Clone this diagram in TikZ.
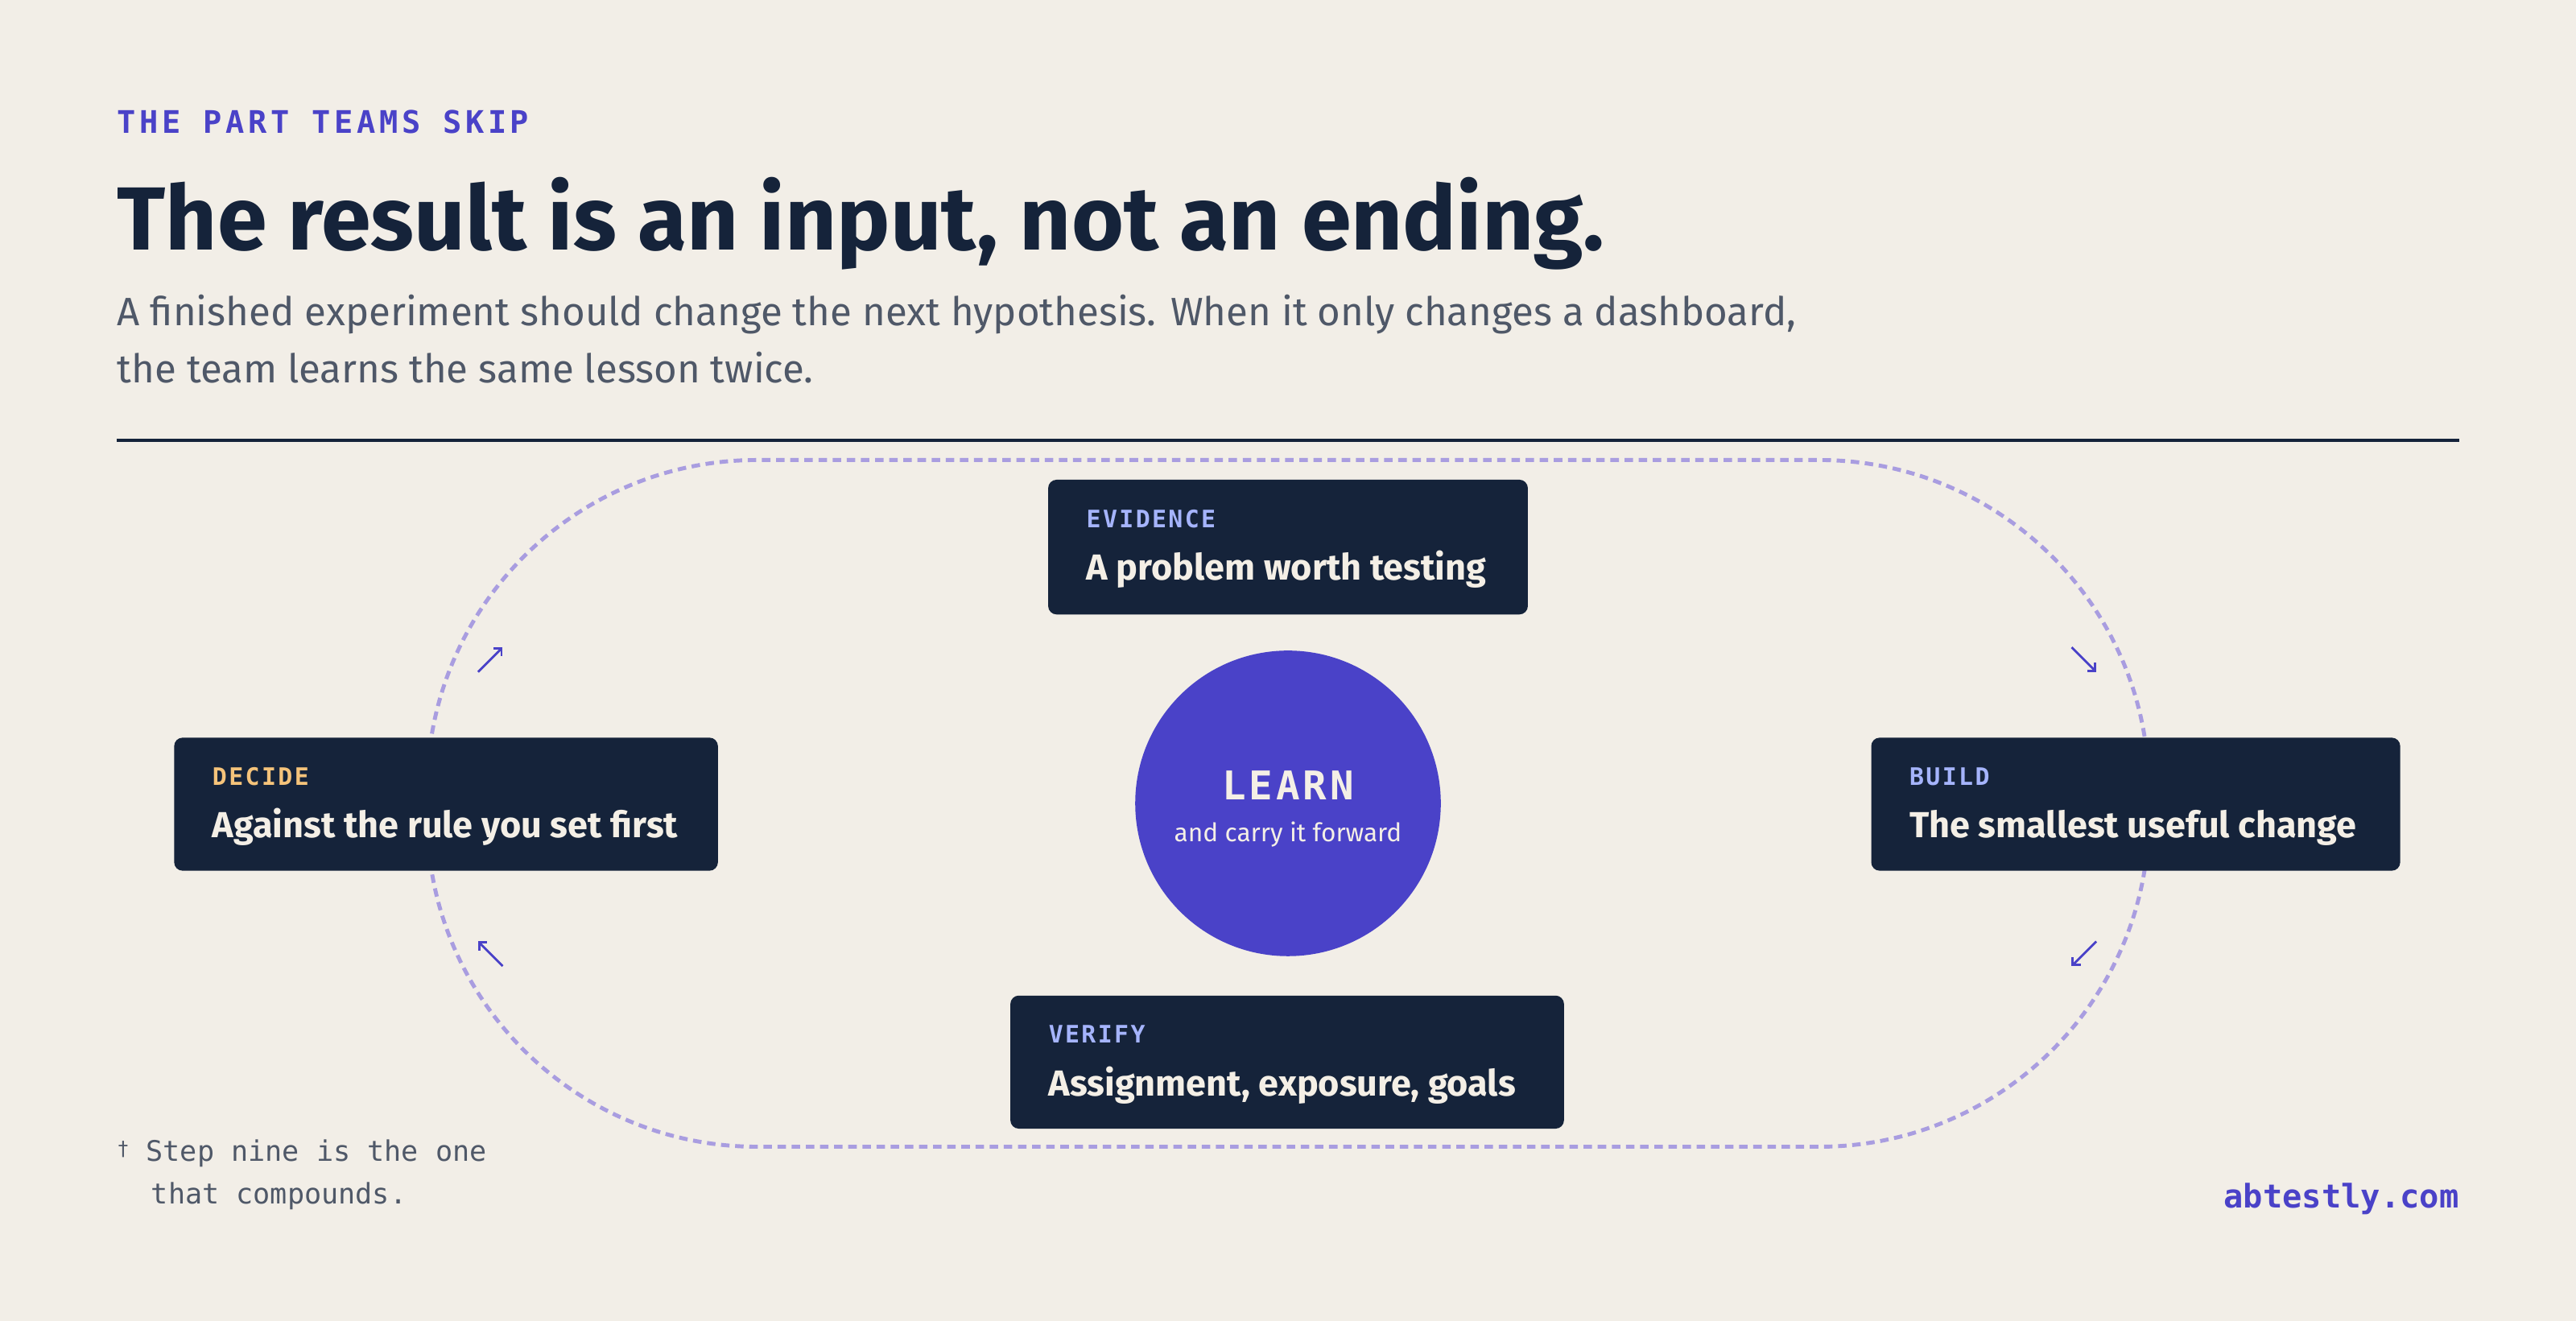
\documentclass[tikz,border=0pt]{standalone}
\usepackage{fontspec}
\setmainfont{Fira Sans}
\setmonofont{DejaVu Sans Mono}
\usepackage{xcolor}
\definecolor{paper}{HTML}{F2EEE7}
\definecolor{ink}{HTML}{15233A}
\definecolor{indigo}{HTML}{4A42C8}
\definecolor{lav}{HTML}{A99DE0}
\definecolor{tagblue}{HTML}{A5B4FC}
\definecolor{tagsand}{HTML}{F5C37A}
\definecolor{cream}{HTML}{F4EFE6}
\definecolor{greytext}{HTML}{4F5868}
\tikzset{
  every node/.style={inner sep=0pt},
  card/.style={fill=ink,rounded corners=3pt},
  tag/.style={anchor=base west,font=\ttfamily\bfseries\fontsize{8.5}{10}\selectfont\addfontfeatures{LetterSpace=8}},
  headline/.style={anchor=base west,text=cream,font=\bfseries\fontsize{12.8}{15}\selectfont},
  turn/.style={indigo,-{Straight Barb[length=2pt]},line width=0.8pt},
}
\usetikzlibrary{arrows.meta}
\begin{document}
\begin{tikzpicture}[x=0.02041cm,y=-0.02041cm]
        \useasboundingbox[fill=paper] (0,0) rectangle (1568,804);

        % header
        \node[anchor=base west,text=indigo,font=\ttfamily\bfseries\fontsize{11}{12}\selectfont\addfontfeatures{LetterSpace=12}] (kicker) at (71,81) {THE PART TEAMS SKIP};
        \node[anchor=base west,text=ink,font=\bfseries\fontsize{31.7}{36}\selectfont] (title) at (71,152) {The result is an input, not an ending.};
        \node[anchor=base west,text=greytext,font=\fontsize{14}{17}\selectfont] (sub1) at (71,198) {A finished experiment should change the next hypothesis. When it only changes a dashboard,};
        \node[anchor=base west,text=greytext,font=\fontsize{14}{17}\selectfont] (sub2) at (71,233) {the team learns the same lesson twice.};
        \draw[ink,line width=1pt] (71,268) -- (1497,268);

        % the loop
        \draw[lav,line width=1.4pt,dash pattern=on 3pt off 2pt,rounded corners=4.1cm] (260,280) rectangle (1308,698);
        \draw[turn] (291,409) -- (306,394);
        \draw[turn] (1261,394) -- (1276,409);
        \draw[turn] (1276,573) -- (1261,588);
        \draw[turn] (306,588) -- (291,573);

        % cards
        \fill[card] (638,292) rectangle (930,374);
        \node[tag,text=tagblue] (evtag) at (661,321) {EVIDENCE};
        \node[headline] (evtext) at (661,353) {A problem worth testing};

        \fill[card] (106,449) rectangle (437,530);
        \node[tag,text=tagsand] (dectag) at (129,478) {DECIDE};
        \node[headline] (dectext) at (129,510) {Against the rule you set first};

        \fill[card] (1139,449) rectangle (1461,530);
        \node[tag,text=tagblue] (bldtag) at (1162,478) {BUILD};
        \node[headline] (bldtext) at (1162,510) {The smallest useful change};

        \fill[card] (615,606) rectangle (952,687);
        \node[tag,text=tagblue] (vertag) at (638,635) {VERIFY};
        \node[headline] (vertext) at (638,667) {Assignment, exposure, goals};

        % centre
        \fill[indigo] (784,489) circle (93);
        \node[text=cream,font=\ttfamily\bfseries\fontsize{14}{16}\selectfont\addfontfeatures{LetterSpace=8}] (learn) at (784,478) {LEARN};
        \node[text=cream,font=\fontsize{9}{11}\selectfont] (carry) at (784,508) {and carry it forward};

        % footer
        \node[anchor=base west,text=greytext,font=\ttfamily\fontsize{10}{13}\selectfont] (note1) at (71,707) {\raisebox{2pt}{\fontsize{7}{8}\selectfont†} Step nine is the one};
        \node[anchor=base west,text=greytext,font=\ttfamily\fontsize{10}{13}\selectfont] (note2) at (71,733) {\phantom{†} that compounds.};
        \node[anchor=base east,text=indigo,font=\ttfamily\bfseries\fontsize{11.5}{13}\selectfont] (site) at (1497,735) {abtestly.com};
    \end{tikzpicture}
\end{document}
